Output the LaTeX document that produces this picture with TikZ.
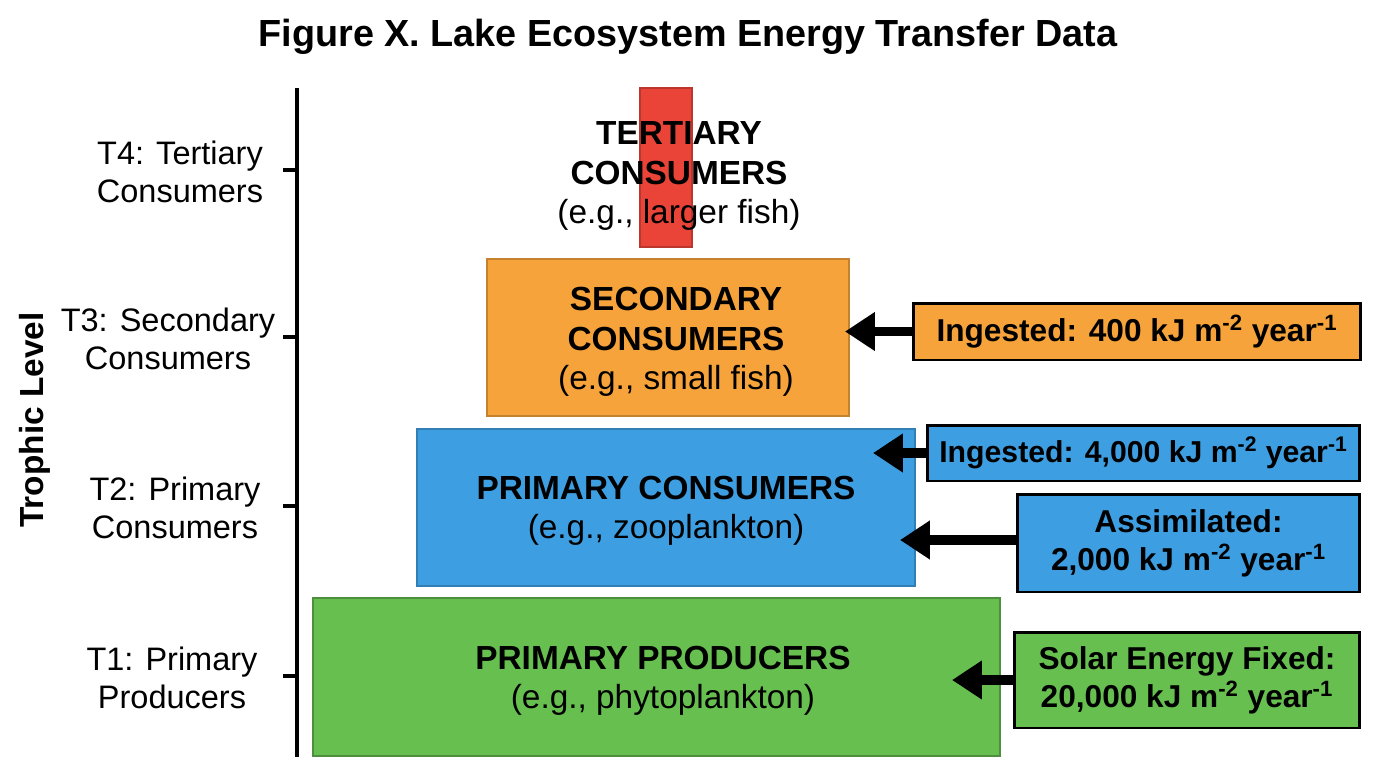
\documentclass[tikz,border=0pt]{standalone}
\usepackage{fontspec}
\setmainfont{Liberation Sans}
\usetikzlibrary{arrows.meta,positioning}
\definecolor{tred}{HTML}{EA4438}
\definecolor{torange}{HTML}{F5A33A}
\definecolor{tblue}{HTML}{3D9FE2}
\definecolor{tgreen}{HTML}{67BF50}

\begin{document}
\begin{tikzpicture}[
    x=0.02cm, y=-0.02cm,
    inner sep=0pt, %boxes keep their given size
    lvltxt/.style={align=center,font=\fontsize{19}{22.5}\selectfont},
    lvl/.style={draw,line width=0.7pt},
    tag/.style={draw=black,line width=1.7pt,align=center,
        font=\bfseries\fontsize{18}{21.5}\selectfont},
    axlbl/.style={align=center,font=\fontsize{18.5}{21.5}\selectfont},
    fat/.style={line width=5.5pt,-{Triangle[length=17pt,width=21pt]}},
    ]
    \useasboundingbox (0,0) rectangle (1376,768);
    \node[font=\bfseries\fontsize{21.5}{25}\selectfont] (title) at (688,37)
        {Figure X. Lake Ecosystem Energy Transfer Data};

    % axis
    \draw[line width=1.8pt] (297,88) -- (297,757);
    \foreach \y in {170,337,506,676}
        \draw[line width=1.8pt] (283,\y) -- (297,\y);
    \node[axlbl] (t4) at (180,172) {T4: Tertiary\\Consumers};
    \node[axlbl] (t3) at (168,339) {T3: Secondary\\Consumers};
    \node[axlbl] (t2) at (175,508) {T2: Primary\\Consumers};
    \node[axlbl] (t1) at (172,678) {T1: Primary\\Producers};
    \node[rotate=90,font=\bfseries\fontsize{19}{23}\selectfont] (ylab)
        at (35,420) {Trophic Level};

    % pyramid
    \node[lvl,fill=tred,draw=tred!80!black,minimum width=1.04cm,
        minimum height=3.18cm] (red) at (666,167.5) {};
    \node[lvl,fill=torange,draw=torange!80!black,minimum width=7.24cm,
        minimum height=3.14cm] (orange) at (668,337.5) {};
    \node[lvl,fill=tblue,draw=tblue!80!black,minimum width=9.96cm,
        minimum height=3.14cm] (blue) at (666,507.5) {};
    \node[lvl,fill=tgreen,draw=tgreen!75!black,minimum width=13.74cm,
        minimum height=3.16cm] (green) at (656.5,677) {};

    \node[lvltxt] (redtxt) at (679,176)
        {\textbf{TERTIARY}\\\textbf{CONSUMERS}\\(e.g., larger fish)};
    \node[lvltxt] (orangetxt) at (676,342)
        {\textbf{SECONDARY}\\\textbf{CONSUMERS}\\(e.g., small fish)};
    \node[lvltxt] (bluetxt) at (666,511)
        {\textbf{PRIMARY CONSUMERS}\\(e.g., zooplankton)};
    \node[lvltxt] (greentxt) at (663,681)
        {\textbf{PRIMARY PRODUCERS}\\(e.g., phytoplankton)};

    % energy data
    \node[tag,fill=torange,minimum width=8.96cm,minimum height=1.14cm]
        (otag) at (1137,331.5)
        {Ingested: 400 kJ m\textsuperscript{-2} year\textsuperscript{-1}};
    \node[tag,fill=tblue,minimum width=8.66cm,minimum height=1.12cm,
        font=\bfseries\fontsize{17.2}{21}\selectfont]
        (btaga) at (1143.5,453)
        {Ingested: 4,000 kJ m\textsuperscript{-2} year\textsuperscript{-1}};
    \node[tag,fill=tblue,minimum width=6.86cm,minimum height=1.96cm]
        (btagb) at (1188.5,543)
        {Assimilated:\\2,000 kJ m\textsuperscript{-2} year\textsuperscript{-1}};
    \node[tag,fill=tgreen,minimum width=6.92cm,minimum height=1.92cm]
        (gtag) at (1187,680)
        {Solar Energy Fixed:\\20,000 kJ m\textsuperscript{-2} year\textsuperscript{-1}};

    \coordinate (otip) at (845,331.5);
    \coordinate (btipa) at (873,453);
    \coordinate (btipb) at (900,540);
    \coordinate (gtip) at (952,680);
    \draw[fat] (otag.west) -- (otip);
    \draw[fat] (btaga.west) -- (btipa);
    \draw[fat] (btagb.west |- btipb) -- (btipb);
    \draw[fat] (gtag.west) -- (gtip);
\end{tikzpicture}
\end{document}
